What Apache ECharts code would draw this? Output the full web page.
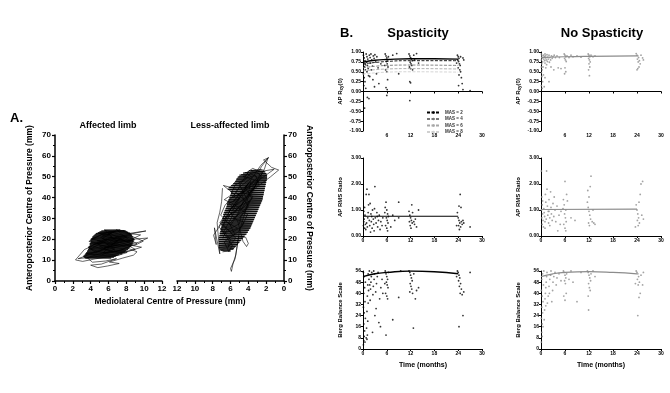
<!DOCTYPE html>
<html><head><meta charset="utf-8">
<script src="https://cdn.jsdelivr.net/npm/echarts@6/dist/echarts.min.js"></script>
<style>html,body{margin:0;padding:0;background:#fff}#c{width:670px;height:393px}</style>
</head><body><div id="c"></div>
<script>
// ---------- Panel A: centre-of-pressure traces (x = mediolateral mm, y = anteroposterior mm)
const affectedTrace = [[6.2,18.4],[7.5,20.1],[5.3,21.6],[6.8,23.9],[5.9,22.2],[8.1,21.0],[4.7,19.3],[7.0,17.2],[5.5,15.8],[8.4,18.7],[6.1,20.9],[4.3,17.5],[7.8,15.4],[6.5,13.9],[5.0,16.6],[8.9,19.8],[7.1,22.6],[5.6,24.3],[6.4,21.2],[4.0,15.3],[5.8,13.1],[7.4,14.8],[9.2,17.9],[8.0,20.6],[6.9,24.6],[7.6,23.1],[9.6,22.1],[8.6,20.0],[10.4,20.6],[9.4,18.6],[7.2,16.5],[4.8,14.2],[3.4,13.0],[5.2,12.4],[6.7,15.3],[5.4,18.9],[4.1,20.2],[6.0,23.4],[7.3,24.4],[8.3,22.8],[10.2,24.0],[9.1,23.1],[7.9,21.9],[5.7,19.7],[3.7,16.2],[4.6,13.6],[6.3,16.9],[8.2,17.4],[9.7,16.2],[8.5,14.6],[6.6,12.8],[4.4,11.6],[2.6,10.7],[3.9,12.8],[5.1,14.9],[7.0,19.0],[6.1,21.8],[4.9,22.8],[6.6,23.6],[5.3,20.4],[7.7,18.1],[9.0,15.2],[7.5,13.4],[5.9,14.6],[4.2,16.8],[3.3,15.1],[2.3,10.1],[3.1,9.4],[4.5,10.6],[5.6,11.4],[7.1,12.3],[8.1,13.7],[6.4,14.2],[4.9,12.9],[3.6,11.2],[4.2,9.0],[5.7,9.6],[6.9,10.7],[5.2,8.1],[4.0,7.6],[4.8,6.4],[5.9,7.2],[7.2,8.4],[6.1,9.1],[7.6,11.0],[8.8,12.4],[9.2,14.0],[8.0,16.0],[6.8,18.3],[5.0,18.0],[3.8,19.0],[5.5,23.0],[7.9,24.1],[8.7,21.3],[9.9,19.1],[8.9,17.0],[7.3,20.3],[6.0,16.0],[4.7,17.9],[6.3,19.6],[8.5,19.1],[7.0,21.4],[5.8,17.5],[6.9,14.0],[5.4,13.5],[6.5,17.8],[7.8,19.4],[6.2,22.7],[5.1,21.0],[6.0,18.8]];
const affectedCore = [[3.4,10.8],[6.3,11.0],[3.3,11.2],[6.6,11.4],[3.2,11.6],[6.8,11.8],[3.2,12.0],[7.0,12.2],[3.3,12.4],[7.2,12.6],[3.4,12.8],[7.5,13.0],[3.5,13.2],[7.6,13.4],[3.5,13.6],[7.8,13.8],[3.6,14.0],[7.9,14.2],[3.6,14.4],[8.0,14.6],[3.7,14.8],[8.2,15.0],[3.7,15.2],[8.2,15.4],[3.8,15.6],[8.3,15.8],[3.8,16.0],[8.4,16.2],[3.8,16.4],[8.5,16.6],[3.9,16.8],[8.6,17.0],[3.9,17.2],[8.6,17.4],[3.9,17.6],[8.7,17.8],[3.9,18.0],[8.7,18.2],[4.0,18.4],[8.8,18.6],[4.0,18.8],[8.8,19.0],[4.0,19.2],[8.8,19.4],[4.0,19.6],[8.9,19.8],[4.0,20.0],[8.8,20.2],[4.1,20.4],[8.8,20.6],[4.2,20.8],[8.7,21.0],[4.2,21.2],[8.7,21.4],[4.3,21.6],[8.6,21.8],[4.4,22.0],[8.6,22.2],[4.5,22.4],[8.5,22.6],[4.6,22.8],[8.4,23.0],[4.8,23.2],[8.2,23.4],[5.0,23.6],[8.0,23.8],[5.2,24.0],[7.8,24.2],[5.5,24.4],[7.3,24.6]];
const lessAffectedTrace = [[5.0,30.0],[3.8,38.5],[6.2,33.2],[4.4,43.0],[3.3,48.5],[5.7,38.1],[4.0,46.8],[6.5,28.4],[5.2,25.3],[6.9,22.6],[5.6,32.6],[3.6,42.1],[2.9,47.9],[4.6,50.2],[3.1,52.4],[2.5,50.0],[4.1,40.3],[5.9,35.4],[6.8,27.0],[5.4,20.5],[6.3,16.1],[6.0,19.8],[7.0,24.9],[6.4,30.5],[4.8,36.2],[3.4,44.6],[2.7,51.2],[3.9,53.0],[4.7,47.5],[5.5,41.8],[6.6,36.4],[7.1,31.6],[6.0,26.7],[4.9,33.5],[4.3,37.8],[3.2,45.9],[2.2,53.6],[1.8,59.0],[2.5,55.0],[2.9,52.3],[1.1,53.6],[2.6,49.0],[3.7,45.1],[5.2,44.0],[6.8,45.8],[6.1,43.4],[5.0,39.5],[6.2,37.3],[5.3,34.2],[6.9,29.3],[7.3,26.1],[6.5,21.4],[5.8,17.0],[6.2,14.1],[6.7,18.8],[5.1,23.7],[4.5,28.3],[5.7,30.0],[4.2,34.7],[3.5,40.6],[4.6,42.6],[5.8,40.0],[4.0,44.0],[3.0,49.8],[3.8,51.5],[4.4,48.3],[5.5,46.0],[6.0,41.0],[6.7,39.0],[5.6,36.8],[4.1,31.9],[4.7,26.1],[5.9,23.2],[7.2,27.8],[6.3,33.9],[5.1,37.0],[3.9,41.8],[3.3,47.0],[2.4,51.8],[3.5,54.0],[4.2,52.0],[3.6,49.6],[4.9,45.3],[5.4,42.6],[4.5,39.0],[5.3,31.2],[6.1,27.5],[5.5,22.2],[6.9,20.6],[6.4,24.4],[5.0,27.4],[4.8,31.0],[4.0,35.6],[4.7,40.8],[3.8,43.6],[2.8,46.4],[3.2,50.6],[4.3,49.2],[5.1,47.0],[4.0,38.0],[5.0,24.0],[5.2,18.5],[5.4,12.5],[5.7,8.6],[5.9,4.6],[6.0,6.0],[5.5,10.5],[5.3,15.5],[5.1,21.0],[4.3,21.0],[4.0,18.0],[4.2,16.5],[4.6,19.0],[5.2,28.8],[6.0,32.0],[4.6,35.0],[3.6,39.6],[4.4,45.0],[3.7,47.7],[4.0,42.0],[1.5,50.0],[0.6,53.2],[1.4,54.5],[1.9,56.5],[2.3,58.0],[1.7,59.2],[2.6,55.5],[7.9,22.0],[7.6,17.5],[7.8,25.5],[7.2,13.0],[7.5,28.0],[7.2,33.0],[7.0,38.0],[6.9,44.5]];
const lessAffectedCore = [[6.9,14.0],[6.0,14.5],[7.2,15.0],[5.6,15.5],[7.3,16.0],[5.4,16.5],[7.3,17.0],[5.2,17.5],[7.3,18.0],[5.0,18.5],[7.3,19.0],[4.8,19.5],[7.3,20.0],[4.6,20.5],[7.3,21.0],[4.4,21.5],[7.2,22.0],[4.2,22.5],[7.2,23.0],[4.05,23.5],[7.1,24.0],[3.9,24.5],[7.1,25.0],[3.75,25.5],[7.0,26.0],[3.65,26.5],[7.0,27.0],[3.55,27.5],[7.0,28.0],[3.45,28.5],[6.9,29.0],[3.35,29.5],[6.9,30.0],[3.25,30.5],[6.8,31.0],[3.15,31.5],[6.8,32.0],[3.05,32.5],[6.7,33.0],[2.95,33.5],[6.6,34.0],[2.85,34.5],[6.5,35.0],[2.75,35.5],[6.4,36.0],[2.65,36.5],[6.4,37.0],[2.55,37.5],[6.3,38.0],[2.45,38.5],[6.2,39.0],[2.4,39.5],[6.1,40.0],[2.35,40.5],[6.0,41.0],[2.3,41.5],[5.9,42.0],[2.25,42.5],[6.0,43.0],[2.2,43.5],[6.3,44.0],[2.15,44.5],[6.1,45.0],[2.1,45.5],[5.8,46.0],[2.05,46.5],[5.6,47.0],[2.0,47.5],[5.4,48.0],[1.95,48.5],[5.3,49.0],[1.9,49.5],[5.1,50.0],[1.9,50.5],[4.8,51.0],[2.0,51.5],[4.4,52.0],[2.2,52.5],[3.7,53.0],[2.5,53.5]];
const lessAffectedCoreBack = [[2.3,53.25],[3.9,52.75],[2.1,52.25],[4.6,51.75],[1.95,51.25],[5.0,50.75],[1.9,50.25],[5.2,49.75],[1.9,49.25],[5.35,48.75],[1.95,48.25],[5.5,47.75],[2.0,47.25],[5.7,46.75],[2.05,46.25],[5.95,45.75],[2.1,45.25],[6.2,44.75],[2.15,44.25],[6.1,43.75],[2.2,43.25],[5.95,42.75],[2.25,42.25],[5.95,41.75],[2.3,41.25],[6.05,40.75],[2.35,40.25],[6.15,39.75],[2.4,39.25],[6.25,38.75],[2.5,38.25],[6.35,37.75],[2.6,37.25],[6.4,36.75],[2.7,36.25],[6.45,35.75],[2.8,35.25],[6.55,34.75],[2.9,34.25],[6.65,33.75],[3.0,33.25],[6.75,32.75],[3.1,32.25],[6.8,31.75],[3.2,31.25],[6.85,30.75],[3.3,30.25],[6.9,29.75],[3.4,29.25],[6.95,28.75],[3.5,28.25],[7.0,27.75],[3.6,27.25],[7.0,26.75],[3.7,26.25],[7.05,25.75],[3.8,25.25],[7.1,24.75],[3.95,24.25],[7.15,23.75],[4.1,23.25],[7.2,22.75],[4.3,22.25],[7.25,21.75],[4.5,21.25],[7.3,20.75],[4.7,20.25],[7.3,19.75],[4.9,19.25],[7.3,18.75],[5.1,18.25],[7.3,17.75],[5.3,17.25],[7.3,16.75],[5.5,16.25],[7.25,15.75],[5.7,15.25],[7.1,14.75],[6.0,14.25]];

// ---------- Panel B: [months, value]
const spasRxy = [[0.1,0.92],[0.3,0.85],[0.5,0.78],[0.2,0.70],[0.4,0.62],[0.6,0.55],[0.1,0.45],[0.3,0.35],[0.5,0.25],[0.2,0.15],[0.8,0.95],[1.0,0.88],[1.2,0.82],[0.9,0.74],[1.1,0.66],[1.3,0.58],[1.0,0.50],[1.4,0.40],[0.7,0.08],[1.1,-0.15],[1.5,-0.18],[0.4,-0.42],[1.6,0.92],[1.8,0.86],[2.0,0.95],[2.2,0.80],[1.9,0.72],[2.4,0.64],[2.1,0.55],[2.6,0.90],[2.8,0.84],[3.0,0.93],[2.5,0.30],[3.2,0.75],[3.5,0.88],[3.8,0.60],[3.4,0.45],[4.0,0.20],[4.5,0.70],[1.7,0.38],[2.9,0.12],[0.6,0.68],
  [5.6,0.95],[5.8,0.90],[6.0,0.85],[6.2,0.80],[5.9,0.76],[6.1,0.70],[6.3,0.62],[5.7,0.55],[6.0,0.50],[6.2,0.30],[5.8,0.10],[6.1,0.05],[6.0,-0.10],[6.4,0.88],[5.5,0.66],[7.5,0.92],[8.5,0.96],[9.0,0.45],
  [11.6,0.95],[11.8,0.90],[12.0,0.86],[12.2,0.82],[12.4,0.78],[11.9,0.74],[12.1,0.70],[12.3,0.66],[11.7,0.62],[12.0,0.58],[12.5,0.55],[11.8,0.25],[12.0,0.22],[11.8,-0.23],[12.8,0.92],[13.0,0.80],[13.5,0.96],[14.0,0.72],
  [23.8,0.92],[24.0,0.88],[24.2,0.84],[23.9,0.80],[24.1,0.76],[24.3,0.70],[24.5,0.66],[24.0,0.60],[24.4,0.55],[24.6,0.50],[24.2,0.42],[24.8,0.35],[24.1,0.15],[25.0,0.20],[24.6,0.88],[25.2,0.85],[25.4,0.80],[23.6,0.72],[27.0,0.02],[25.2,0.05]];
const spasRxyFit = [[0,0.74],[3,0.79],[6,0.81],[12,0.83],[18,0.83],[24,0.82]];
const mas2Fit = [[0,0.70],[6,0.76],[12,0.78],[24,0.78]];
const mas4Fit = [[0,0.60],[6,0.66],[12,0.67],[24,0.66]];
const mas6Fit = [[0,0.52],[6,0.57],[12,0.58],[24,0.57]];
const mas8Fit = [[0,0.44],[6,0.49],[12,0.50],[24,0.49]];

const nospasRxy = [[0.1,0.95],[0.2,0.90],[0.3,0.85],[0.1,0.80],[0.4,0.75],[0.2,0.70],[0.5,0.62],[0.3,0.55],[0.1,0.48],[0.2,0.38],[0.4,0.25],[0.1,0.15],[0.3,0.08],[0.6,0.92],[0.8,0.88],[0.7,0.82],[0.9,0.78],[1.0,0.95],[1.1,0.90],[1.2,0.85],[1.3,0.80],[1.0,0.72],[1.4,0.68],[1.2,0.60],[1.5,0.93],[1.7,0.87],[1.8,0.82],[1.6,0.76],[2.0,0.92],[2.2,0.86],[2.4,0.80],[2.1,0.74],[2.6,0.90],[2.8,0.84],[3.0,0.88],[2.5,0.62],[3.3,0.92],[3.6,0.86],[3.2,0.55],[4.0,0.90],[4.3,0.60],[4.6,0.86],[5.0,0.58],[2.0,0.25],[1.0,0.35],[0.6,0.42],[0.8,0.12],[0.1,0.62],
  [5.8,0.95],[6.0,0.92],[6.2,0.88],[5.9,0.84],[6.1,0.80],[6.3,0.76],[6.0,0.60],[6.2,0.50],[5.9,0.45],[6.5,0.90],[7.0,0.86],[7.5,0.92],[8.0,0.88],[9.0,0.90],[10.0,0.87],
  [11.8,0.95],[12.0,0.92],[12.2,0.88],[11.9,0.84],[12.1,0.80],[12.3,0.75],[12.0,0.70],[12.2,0.62],[11.9,0.55],[12.1,0.40],[12.5,0.92],[13.0,0.88],[13.5,0.90],
  [23.8,0.96],[24.0,0.92],[24.2,0.90],[24.4,0.86],[24.1,0.82],[24.6,0.78],[24.3,0.75],[24.8,0.70],[24.5,0.62],[24.2,0.58],[24.0,0.55],[25.0,0.92],[25.4,0.85],[25.6,0.80]];
const nospasRxyFit = [[0,0.86],[6,0.88],[12,0.89],[24,0.90]];

const spasRms = [[0.1,0.40],[0.2,0.55],[0.3,0.65],[0.4,0.30],[0.5,0.80],[0.2,0.95],[0.6,0.45],[0.7,0.25],[0.8,1.60],[1.0,1.80],[1.2,0.70],[0.9,0.50],[1.1,0.35],[1.3,0.90],[1.4,1.20],[1.5,1.60],[1.6,0.60],[1.7,0.40],[1.8,1.25],[2.0,0.85],[2.1,0.55],[2.2,0.75],[2.3,0.30],[2.4,1.00],[2.6,0.65],[2.7,0.45],[2.8,0.20],[3.0,1.90],[3.1,0.70],[3.3,0.50],[3.5,0.90],[3.7,0.35],[3.9,0.60],[4.1,0.80],[4.3,0.25],[4.5,0.55],[4.8,0.40],[5.0,0.70],[1.9,0.15],[0.4,1.10],[2.9,1.05],[3.6,0.75],
  [5.6,1.10],[5.8,1.30],[6.0,1.00],[6.2,0.85],[5.9,0.70],[6.1,0.60],[6.3,0.50],[5.7,0.40],[6.0,0.30],[6.2,0.20],[6.4,0.75],[5.5,0.90],[7.0,0.35],[7.5,0.80],[9.0,1.30],[9.0,0.70],[8.0,0.60],
  [11.6,0.95],[11.8,0.80],[12.0,0.70],[12.2,0.60],[12.4,0.50],[11.9,0.40],[12.1,0.30],[12.3,1.20],[12.5,0.90],[12.8,0.55],[13.0,0.45],[13.2,0.65],[13.5,0.35],[14.0,1.00],[11.7,0.55],
  [23.8,0.90],[24.0,0.70],[24.2,0.60],[24.4,0.50],[24.1,0.40],[24.6,0.35],[24.3,0.25],[24.8,0.55],[25.0,0.45],[24.5,1.60],[24.2,1.15],[24.7,1.10],[25.2,0.60],[25.4,0.50],[23.6,0.40],[27.0,0.35]];
const spasRmsFit = [[0,0.76],[24,0.76]];

const nospasRms = [[0.1,2.50],[0.2,1.50],[0.3,1.20],[0.1,1.00],[0.4,0.85],[0.2,0.70],[0.5,0.60],[0.3,0.45],[0.6,0.35],[0.7,1.05],[0.8,0.90],[0.9,0.75],[1.0,0.55],[1.1,1.60],[1.2,1.30],[1.3,0.65],[1.4,2.50],[1.5,1.80],[1.6,1.15],[1.7,0.80],[1.8,0.95],[1.9,0.50],[2.0,1.40],[2.2,0.70],[2.4,1.70],[2.5,1.10],[2.6,0.85],[2.8,0.60],[3.0,1.25],[3.2,0.75],[3.5,1.00],[3.7,0.55],[4.0,1.15],[4.2,0.20],[4.5,0.80],[4.8,0.45],[5.0,0.95],[1.0,0.30],[2.2,0.40],[0.4,1.35],[3.3,1.50],[2.0,0.95],
  [5.6,1.40],[5.8,1.20],[6.0,2.10],[6.2,1.00],[5.9,0.85],[6.1,0.70],[6.3,0.55],[5.7,0.45],[6.0,0.30],[6.2,0.20],[6.4,1.60],[6.6,1.35],[7.5,0.70],[8.5,0.60],[5.5,1.05],
  [11.6,1.30],[11.8,1.10],[12.0,0.95],[12.2,0.80],[12.4,0.65],[11.9,0.50],[12.1,0.40],[12.3,1.90],[12.5,2.30],[12.8,0.55],[13.0,1.00],[13.2,0.50],[13.5,0.45],[12.0,1.50],[11.7,1.75],
  [23.8,1.20],[24.0,1.00],[24.2,0.85],[24.4,0.70],[24.1,0.60],[24.6,0.50],[24.3,0.40],[24.8,1.60],[25.0,2.00],[25.4,2.10],[24.5,1.30],[25.2,0.80],[25.6,0.65],[23.6,0.35]];
const nospasRmsFit = [[0,1.02],[24,1.03]];

const spasBerg = [[0.1,3],[0.2,6],[0.3,9],[0.5,5],[0.4,13],[0.2,18],[0.6,22],[0.3,26],[0.1,30],[0.5,34],[0.2,40],[0.4,44],[0.6,48],[0.3,52],[0.1,55],[0.8,8],[1.0,7],[1.1,10],[0.9,15],[1.2,20],[1.0,27],[1.3,33],[1.1,38],[1.4,42],[1.2,46],[1.5,50],[1.3,54],[1.6,56],[1.8,35],[1.9,43],[2.0,48],[2.1,52],[2.2,55],[2.4,12],[2.5,39],[2.6,45],[2.8,50],[2.9,54],[3.0,24],[3.2,41],[3.4,47],[3.6,52],[3.8,55],[4.0,19],[4.2,36],[4.5,44],[4.8,50],[4.4,16],[3.3,29],[2.7,56],[1.7,46],[5.0,40],
  [5.6,56],[5.8,54],[6.0,52],[6.2,50],[5.9,48],[6.1,46],[6.3,44],[5.7,40],[6.0,38],[6.2,36],[5.8,10],[6.4,55],[5.5,47],[7.5,21],[9.0,37],[9.5,56],
  [11.6,56],[11.8,55],[12.0,53],[12.2,51],[12.4,49],[11.9,47],[12.1,45],[12.3,43],[12.5,40],[11.8,41],[12.7,15],[13.2,36],[13.5,42],[14.0,44],[12.8,54],
  [23.8,56],[24.0,55],[24.2,53],[24.4,51],[24.1,49],[24.6,47],[24.3,45],[24.8,43],[24.5,40],[25.0,39],[24.2,16],[25.2,24],[25.4,41],[23.6,52],[27.0,55]];
const spasBergFit = [[0,52],[3,54],[6,55],[12,56],[18,55.5],[24,54]];

const nospasBerg = [[0.1,5],[0.2,12],[0.3,18],[0.1,22],[0.4,26],[0.2,30],[0.5,34],[0.3,38],[0.1,42],[0.6,46],[0.2,50],[0.4,54],[0.7,56],[0.8,21],[0.9,28],[1.0,36],[1.1,40],[1.2,44],[1.3,48],[1.4,52],[1.5,55],[1.6,33],[1.8,38],[2.0,45],[2.2,50],[2.4,53],[2.5,56],[2.7,34],[2.9,42],[3.0,48],[3.2,52],[3.5,55],[3.8,46],[4.0,51],[4.5,54],[5.0,49],[0.5,16],[1.2,31],[2.1,40],[0.3,9],
  [5.6,56],[5.8,55],[6.0,53],[6.2,51],[5.9,49],[6.1,47],[6.3,40],[5.7,38],[6.0,35],[6.4,54],[7.0,50],[7.5,56],[8.0,48],[9.0,34],[10.0,55],
  [11.6,56],[11.8,55],[12.0,53],[12.2,51],[12.4,49],[11.9,47],[12.1,44],[12.3,42],[11.8,38],[11.9,28],[12.5,54],[13.0,56],[13.5,52],
  [23.8,56],[24.0,55],[24.2,54],[24.4,52],[24.1,50],[24.6,48],[24.3,46],[24.8,40],[24.5,37],[24.2,24],[25.0,53],[25.4,46],[25.6,55],[23.6,47]];
const nospasBergFit = [[0,52],[3,54],[6,55],[12,55.5],[18,55],[24,54]];

const masNames = ['MAS = 2','MAS = 4','MAS = 6','MAS = 8'];

// ---------- build
const FF = '"Liberation Sans", Arial, sans-serif';
const BLK = '#000';
const GRY = '#8c8c8c';

const chart = echarts.init(document.getElementById('c'), null, {renderer:'canvas'});

function aAxisX(grid, inverse){
  return {gridIndex:grid, type:'value', min:0, max:12, interval:2, inverse:inverse,
    axisLine:{lineStyle:{color:BLK,width:1.5}}, axisTick:{length:3,lineStyle:{color:BLK,width:1.2}},
    minorTick:{show:true,splitNumber:2,length:2,lineStyle:{color:BLK,width:1}},
    splitLine:{show:false}, axisLabel:{fontSize:8,fontWeight:'bold',color:BLK,fontFamily:FF,margin:4}};
}
function aAxisY(grid, pos, nameRotate){
  return {gridIndex:grid, type:'value', min:0, max:70, interval:10, position:pos,
    name:'Anteroposterior Centre of Pressure (mm)', nameLocation:'middle', nameGap:21, nameRotate:nameRotate,
    nameTextStyle:{fontSize:8.5,fontWeight:'bold',color:BLK,fontFamily:FF},
    axisLine:{show:true,lineStyle:{color:BLK,width:1.5}}, axisTick:{show:true,length:3,lineStyle:{color:BLK,width:1.2}},
    minorTick:{show:true,splitNumber:2,length:2,lineStyle:{color:BLK,width:1}},
    splitLine:{show:false}, axisLabel:{fontSize:8,fontWeight:'bold',color:BLK,fontFamily:FF,margin:4}};
}
function bAxisX(grid, hideZero){
  return {gridIndex:grid, type:'value', min:0, max:30, interval:6,
    axisLine:{onZero:true,lineStyle:{color:BLK,width:1}}, axisTick:{length:2,lineStyle:{color:BLK,width:1}},
    splitLine:{show:false},
    axisLabel:{fontSize:5,fontWeight:'bold',color:BLK,fontFamily:FF,margin:2,
      formatter:(v)=> (hideZero && v===0) ? '' : String(v)}};
}
function bAxisY(grid, min, max, interval, digits, name, rich){
  return {gridIndex:grid, type:'value', min:min, max:max, interval:interval,
    name:name, nameLocation:'middle', nameGap:20,
    nameTextStyle:{fontSize:6,fontWeight:'bold',color:BLK,fontFamily:FF, rich:rich||{}},
    axisLine:{show:true,lineStyle:{color:BLK,width:1}}, axisTick:{show:true,length:2,lineStyle:{color:BLK,width:1}},
    splitLine:{show:false},
    axisLabel:{fontSize:5,fontWeight:'bold',color:BLK,fontFamily:FF,margin:2,
      formatter:(v)=> v.toFixed(digits)}};
}
const subRich = {s:{fontSize:4.5,fontWeight:'bold',fontFamily:FF,color:BLK,padding:[0,0,-3,0]}};

function scat(xi, data, color){
  return {type:'scatter', xAxisIndex:xi, yAxisIndex:xi, data:data, symbolSize:1.8,
    itemStyle:{color:color}, silent:true, animation:false};
}
function fit(xi, data, color, name, dash, width){
  return {type:'line', name:name, xAxisIndex:xi, yAxisIndex:xi, data:data, smooth:true, symbol:'none',
    lineStyle:{color:color, width:width||1.2, type:dash||'solid'}, itemStyle:{color:color},
    silent:true, animation:false, z:3};
}
function trace(xi, data, width){
  return {type:'line', xAxisIndex:xi, yAxisIndex:xi, data:data, symbol:'none',
    lineStyle:{color:BLK,width:width}, silent:true, animation:false};
}

const option = {
  animation:false,
  backgroundColor:'#fff',
  textStyle:{fontFamily:FF},
  grid:[
    {left:55, top:135, width:107, height:146},
    {left:177, top:135, width:107, height:146},
    {left:363, top:52, width:119, height:79},
    {left:541, top:52, width:120, height:79},
    {left:363, top:158, width:119, height:78},
    {left:541, top:158, width:120, height:78},
    {left:363, top:271, width:119, height:78},
    {left:541, top:271, width:120, height:78}
  ],
  xAxis:[
    aAxisX(0,false), aAxisX(1,true),
    bAxisX(2,true), bAxisX(3,true), bAxisX(4,false), bAxisX(5,false), bAxisX(6,false), bAxisX(7,false)
  ],
  yAxis:[
    aAxisY(0,'left',90), aAxisY(1,'right',-90),
    bAxisY(2,-1,1,0.25,2,'AP R{s|xy}(0)',subRich), bAxisY(3,-1,1,0.25,2,'AP R{s|xy}(0)',subRich),
    bAxisY(4,0,3,1,2,'AP RMS Ratio'), bAxisY(5,0,3,1,2,'AP RMS Ratio'),
    bAxisY(6,0,56,8,0,'Berg Balance Scale'), bAxisY(7,0,56,8,0,'Berg Balance Scale')
  ],
  legend:{
    data:masNames, orient:'vertical', left:426, top:110, itemWidth:13, itemHeight:3, itemGap:1.5,
    textStyle:{fontSize:4.5,fontWeight:'bold',color:'#333',fontFamily:FF}, padding:0, selectedMode:false
  },
  series:[
    trace(0, affectedTrace, 0.6),
    trace(0, affectedCore, 0.7),
    trace(1, lessAffectedTrace, 0.6),
    trace(1, lessAffectedCore, 0.7),
    trace(1, lessAffectedCoreBack, 0.7),
    scat(2, spasRxy, BLK),
    fit(2, mas2Fit, '#000', masNames[0], [3,1.5], 0.9),
    fit(2, mas4Fit, '#777', masNames[1], [3,1.5], 0.9),
    fit(2, mas6Fit, '#a8a8a8', masNames[2], [3,1.5], 0.9),
    fit(2, mas8Fit, '#d0d0d0', masNames[3], [3,1.5], 0.9),
    fit(2, spasRxyFit, BLK, null, 'solid', 1.4),
    scat(3, nospasRxy, GRY),
    fit(3, nospasRxyFit, GRY, null, 'solid', 1.2),
    scat(4, spasRms, BLK),
    fit(4, spasRmsFit, BLK, null, 'solid', 1.2),
    scat(5, nospasRms, GRY),
    fit(5, nospasRmsFit, GRY, null, 'solid', 1.2),
    scat(6, spasBerg, BLK),
    fit(6, spasBergFit, BLK, null, 'solid', 1.4),
    scat(7, nospasBerg, GRY),
    fit(7, nospasBergFit, GRY, null, 'solid', 1.2)
  ],
  graphic:[
    {type:'text', left:10, top:112, style:{text:'A.', font:'bold 13px '+FF, fill:BLK}},
    {type:'text', x:108, y:126, style:{text:'Affected limb', font:'bold 9px '+FF, fill:BLK, textAlign:'center', textVerticalAlign:'middle'}},
    {type:'text', x:230, y:126, style:{text:'Less-affected limb', font:'bold 9px '+FF, fill:BLK, textAlign:'center', textVerticalAlign:'middle'}},
    {type:'text', x:170, y:302, style:{text:'Mediolateral Centre of Pressure (mm)', font:'bold 8.5px '+FF, fill:BLK, textAlign:'center', textVerticalAlign:'middle'}},
    {type:'text', x:340, y:33, style:{text:'B.', font:'bold 13px '+FF, fill:BLK, textAlign:'left', textVerticalAlign:'middle'}},
    {type:'text', x:418, y:33, style:{text:'Spasticity', font:'bold 13px '+FF, fill:BLK, textAlign:'center', textVerticalAlign:'middle'}},
    {type:'text', x:602, y:33, style:{text:'No Spasticity', font:'bold 13px '+FF, fill:BLK, textAlign:'center', textVerticalAlign:'middle'}},
    {type:'text', x:423, y:365, style:{text:'Time (months)', font:'bold 7px '+FF, fill:BLK, textAlign:'center', textVerticalAlign:'middle'}},
    {type:'text', x:601, y:365, style:{text:'Time (months)', font:'bold 7px '+FF, fill:BLK, textAlign:'center', textVerticalAlign:'middle'}}
  ]
};
chart.setOption(option);
</script>
</body></html>
